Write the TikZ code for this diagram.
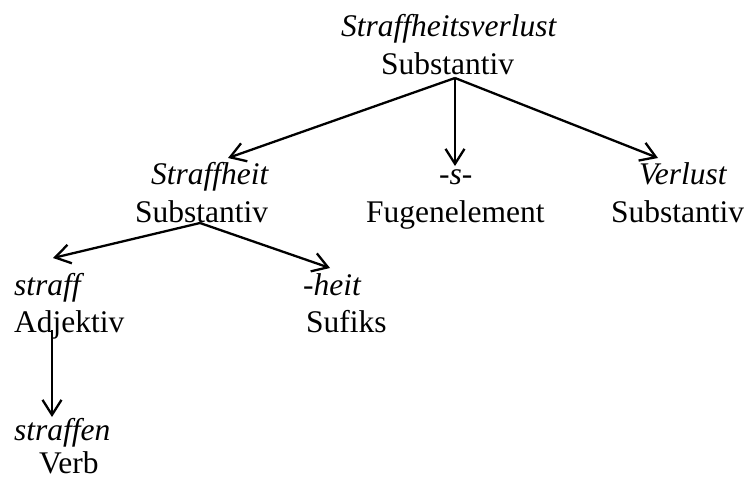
\documentclass[tikz,border=0pt]{standalone}
\usepackage{fontspec}
\setmainfont{Liberation Serif}
\usetikzlibrary{arrows.meta}
\tikzset{every path/.style={black, line width=2.3pt},
         word/.style={font=\fontsize{31.5}{38}\selectfont\itshape, inner sep=0pt, anchor=base west},
         cat/.style={font=\fontsize{31.5}{38}\selectfont, inner sep=0pt, anchor=base west},
         arr/.style={-{Straight Barb[length=15pt,width=19pt,line width=2.3pt]}}}

\begin{document}
\begin{tikzpicture}[x=1pt,y=-1pt]
  \useasboundingbox (0,0) rectangle (749,480);
  % compound
  \node[word] (w1) at (340, 36) {Straffheitsverlust};
  \node[cat]  (c1) at (380, 74) {Substantiv};
  % first level
  \node[word] (w2) at (150,184) {Straffheit};
  \node[cat]  (c2) at (134,222) {Substantiv};
  \node[word] (w3) at (438,184) {-s-};
  \node[cat]  (c3) at (365,222) {Fugenelement};
  \node[word] (w4) at (638,184) {Verlust};
  \node[cat]  (c4) at (610,222) {Substantiv};
  % second level
  \node[word] (w5) at ( 13,295) {straff};
  \node[cat]  (c5) at ( 13,332) {Adjektiv};
  \node[word] (w6) at (302,295) {-heit};
  \node[cat]  (c6) at (305,332) {Sufiks};
  % base verb
  \node[word] (w7) at ( 13,440) {straffen};
  \node[cat]  (c7) at ( 38,473) {Verb};
  % arrow ends
  \coordinate (f1) at (455, 78);
  \coordinate (f2) at (200,223);
  \coordinate (f5) at ( 52,330);
  \coordinate (t2) at (228,158);
  \coordinate (t3) at (455,166);
  \coordinate (t4) at (658,158);
  \coordinate (t5) at ( 53,258);
  \coordinate (t6) at (330,268);
  \coordinate (t7) at ( 52,417);
  \draw[arr] (f1) -- (t2);
  \draw[arr] (f1) -- (t3);
  \draw[arr] (f1) -- (t4);
  \draw[arr] (f2) -- (t5);
  \draw[arr] (f2) -- (t6);
  \draw[arr] (f5) -- (t7);
\end{tikzpicture}
\end{document}
